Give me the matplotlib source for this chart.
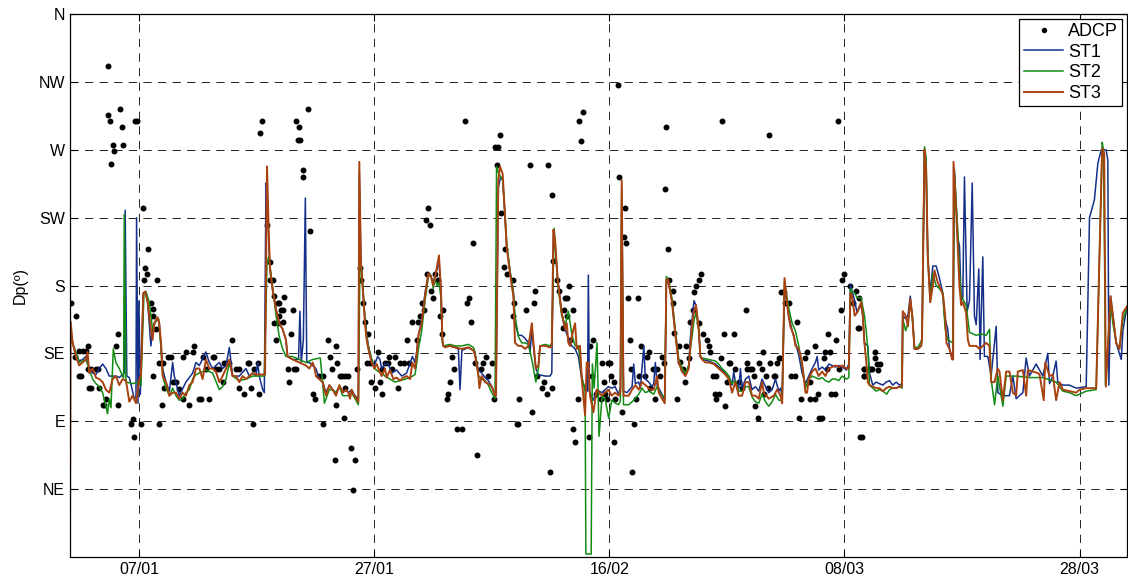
import numpy as np
import matplotlib
matplotlib.use('Agg')
import matplotlib.pyplot as plt
import matplotlib.dates as mdates

plt.rcParams['font.family'] = ['Liberation Sans', 'DejaVu Sans']

# days since 2015-01-01 00:00, direction in degrees
st1_t = [0.10, 0.33, 0.61, 0.89, 1.18, 1.46, 1.74, 2.03, 2.31, 2.60, 2.88, 3.16, 3.45, 3.73, 4.01, 4.30, 4.72, 4.80,
         4.94, 5.15, 5.43, 5.57, 5.72, 5.77, 5.89, 5.97, 6.09, 6.34, 6.51, 6.71, 6.99, 7.13, 7.28, 7.56, 7.70, 7.85,
         7.99, 8.27, 8.56, 8.84, 8.98, 9.40, 9.97, 10.54, 10.82, 11.11, 11.67, 11.96, 12.24, 12.52, 12.81, 13.09,
         13.38, 13.66, 13.94, 14.51, 15.08, 15.36, 15.65, 15.93, 16.07, 16.21, 16.50, 16.64, 16.78, 16.87, 17.01,
         17.12, 17.35, 17.64, 17.91, 18.20, 18.48, 18.62, 19.05, 19.55, 19.67, 19.78, 19.96, 20.13, 20.25, 20.47,
         20.75, 21.03, 21.32, 21.60, 21.89, 22.17, 22.45, 22.74, 23.02, 23.31, 23.59, 23.79, 24.07, 24.35, 24.64,
         24.72, 24.86, 25.06, 25.20, 25.35, 25.49, 25.77, 26.00, 26.28, 26.48, 26.62, 26.90, 27.19, 27.47, 27.90,
         28.33, 28.75, 29.24, 29.46, 29.60, 29.75, 30.03, 30.31, 30.60, 30.82, 31.02, 31.16, 31.30, 31.50, 31.67,
         31.79, 31.87, 32.44, 32.87, 33.15, 33.29, 33.45, 34.00, 34.43, 34.57, 34.85, 35.13, 35.42, 35.70, 35.99,
         36.27, 36.35, 36.55, 36.75, 36.92, 37.10, 37.26, 37.54, 37.83, 37.97, 38.26, 38.54, 38.82, 39.11, 39.25,
         39.40, 39.54, 39.74, 39.96, 40.53, 40.95, 41.10, 41.24, 41.38, 41.60, 41.94, 42.23, 42.51, 42.80, 43.08,
         43.36, 43.65, 43.93, 44.14, 44.21, 44.30, 44.64, 44.92, 45.35, 45.63, 45.92, 46.20, 46.48, 46.79, 46.94,
         47.05, 47.20, 47.50, 47.93, 48.07, 48.21, 48.50, 48.64, 48.93, 49.06, 49.35, 49.63, 49.77, 49.91, 50.06,
         50.34, 50.71, 50.85, 50.99, 51.13, 51.33, 51.62, 51.90, 52.18, 52.47, 52.75, 52.89, 53.03, 53.20, 53.37,
         53.60, 53.74, 53.89, 54.45, 55.02, 55.30, 55.59, 55.87, 56.16, 56.44, 56.58, 56.72, 57.01, 57.15, 57.29,
         57.58, 57.86, 58.14, 58.43, 58.71, 58.99, 59.28, 59.56, 59.85, 60.13, 60.41, 60.56, 60.70, 60.90, 61.12,
         61.26, 61.55, 61.83, 62.11, 62.40, 62.68, 62.96, 63.25, 63.53, 63.68, 63.81, 64.10, 64.38, 64.67, 64.95,
         65.23, 65.52, 65.80, 66.17, 66.37, 66.51, 66.65, 66.87, 67.07, 67.27, 67.42, 67.56, 67.70, 67.99, 68.13,
         68.41, 68.70, 68.98, 69.26, 69.55, 69.83, 70.11, 70.40, 70.68, 70.90, 70.96, 71.21, 71.40, 71.60, 71.77,
         71.96, 72.24, 72.53, 72.60, 72.81, 72.95, 73.09, 73.30, 73.52, 73.80, 74.08, 74.37, 74.50, 74.79, 74.94,
         75.22, 75.36, 75.64, 75.79, 75.93, 76.07, 76.21, 76.44, 76.64, 76.87, 77.06, 77.21, 77.43, 77.54, 77.77,
         77.91, 78.20, 78.48, 78.91, 79.05, 79.48, 80.04, 80.33, 80.61, 80.90, 81.18, 81.46, 81.74, 82.03, 82.31,
         82.60, 82.88, 83.30, 83.45, 83.73, 84.01, 84.15, 84.58, 85.15, 85.72, 86.57, 86.85, 87.27, 87.56, 87.85,
         88.27, 88.41, 88.50, 88.64, 88.84, 89.12, 89.55, 89.69, 90.03]
st1_v = [150, 142, 135, 130, 131, 133, 125, 122, 121, 125, 128, 125, 120, 120, 120, 119, 122, 230,
         120, 119, 110, 105, 106, 225, 102, 170, 108, 175, 176, 169, 140, 151, 155, 158, 155, 140,
         125, 116, 110, 129, 120, 107, 116, 122, 129, 127, 136, 129, 125, 127, 129, 125,
         127, 139, 120, 120, 125, 120, 122, 120, 129, 120, 111, 109, 248, 246, 210,
         191, 177, 164, 155, 151, 144, 133, 131, 131, 163, 129, 144, 238, 129, 129,
         127, 125, 118, 116, 109, 114, 111, 109, 113, 109, 111, 109, 111, 107, 105,
         255, 195, 173, 158, 148, 140, 131, 127, 133, 131, 125, 128, 128, 122, 124,
         120, 122, 133, 129, 136, 147, 157, 175, 188, 186, 182, 186, 190, 196, 177,
         144, 140, 140, 139, 138, 111, 137, 139, 137, 134, 124, 122, 119, 117, 113,
         108, 107, 245, 252, 250, 228, 206, 190, 175, 155, 147, 147, 145, 142, 136,
         150, 140, 125, 121, 120, 120, 122, 215, 208, 184, 162, 151, 145, 140, 138,
         133, 118, 112, 110, 187, 110, 104, 111, 109, 111, 113, 112, 113, 108, 112,
         245, 110, 109, 113, 128, 115, 116, 112, 140, 118, 116, 113, 115, 129, 114,
         110, 104, 184, 182, 178, 169, 147, 129, 125, 121, 127, 145, 157, 170, 167,
         151, 133, 131, 130, 128, 126, 124, 122, 120, 114, 123, 116, 112, 125, 112,
         118, 120, 111, 113, 110, 118, 113, 109, 111, 118, 110, 112, 106, 178, 168,
         160, 150, 142, 134, 122, 115, 120, 125, 129, 133, 124, 126, 124, 128, 127,
         126, 127, 126, 124, 128, 181, 176, 170, 162, 165, 167, 160, 142, 140, 122,
         114, 116, 115, 114, 116, 117, 114, 116, 114, 115, 160, 158, 160, 173, 160,
         138, 138, 140, 145, 270, 256, 199, 175, 193, 193, 185, 175, 160, 151, 138,
         131, 257, 212, 206, 170, 172, 252, 163, 170, 248, 160, 154, 191, 131, 199,
         133, 133, 120, 153, 109, 107, 107, 120, 105, 107, 109, 132, 120, 124, 128,
         124, 120, 135, 115, 120, 130, 116, 114, 114, 112, 113, 225, 237, 261, 270,
         270, 263, 114, 173, 160, 142, 131, 150, 166]

st2_t = [0.10, 0.33, 0.89, 1.46, 2.03, 2.31, 2.60, 2.88, 3.16, 3.30, 3.45, 3.59, 3.79, 4.01, 4.30, 4.58, 4.67, 4.72,
         4.87, 5.43, 5.86, 6.14, 6.40, 6.57, 6.85, 7.13, 7.42, 7.65, 7.85, 7.99, 8.27, 8.56, 8.84, 9.12, 9.40, 9.69,
         9.97, 10.26, 10.54, 10.82, 11.11, 11.67, 12.24, 12.81, 13.09, 13.38, 13.66, 13.94, 14.51, 15.08, 15.65,
         16.21, 16.64, 16.87, 17.01, 17.21, 17.64, 17.91, 18.20, 18.48, 19.05, 19.62, 20.18, 20.75, 21.40, 21.55,
         21.75, 22.17, 22.45, 22.74, 23.02, 23.31, 23.79, 24.07, 24.35, 24.64, 24.78, 24.92, 25.06, 25.20, 25.35,
         25.49, 25.77, 26.00, 26.34, 26.62, 26.90, 27.33, 27.76, 28.18, 28.61, 29.04, 29.46, 29.60, 29.75, 30.03,
         30.31, 30.60, 30.82, 31.02, 31.16, 31.35, 31.50, 31.67, 31.79, 31.87, 32.44, 32.87, 33.43, 34.00, 34.43,
         34.57, 34.85, 35.13, 35.42, 35.70, 35.99, 36.27, 36.40, 36.55, 36.75, 36.92, 37.10, 37.26, 37.54, 37.83,
         37.97, 38.26, 38.54, 38.82, 39.11, 39.40, 39.54, 39.74, 39.96, 40.10, 40.53, 40.95, 41.10, 41.30, 41.45,
         41.60, 41.94, 42.23, 42.37, 42.51, 42.80, 43.08, 43.36, 43.50, 43.65, 43.93, 44.00, 44.45, 44.55, 44.70,
         44.95, 45.12, 45.38, 45.66, 45.94, 46.20, 46.51, 46.79, 46.94, 47.05, 47.20, 47.65, 48.07, 48.50, 48.78,
         49.06, 49.35, 49.77, 50.06, 50.34, 50.71, 50.85, 50.99, 51.13, 51.33, 51.62, 51.90, 52.18, 52.47, 52.75,
         52.89, 53.03, 53.20, 53.37, 53.60, 53.74, 53.89, 54.45, 55.02, 55.30, 55.59, 55.87, 56.16, 56.44, 56.72,
         57.01, 57.29, 57.58, 57.86, 58.14, 58.43, 58.71, 58.99, 59.28, 59.56, 59.85, 60.13, 60.41, 60.56, 60.70,
         60.90, 61.12, 61.26, 61.55, 61.83, 62.11, 62.40, 62.68, 62.96, 63.25, 63.53, 63.81, 64.10, 64.38, 64.67,
         64.95, 65.23, 65.52, 65.80, 66.17, 66.37, 66.51, 66.65, 66.87, 67.07, 67.42, 67.70, 67.85, 67.99, 68.13,
         68.41, 68.70, 68.98, 69.26, 69.60, 69.83, 70.11, 70.40, 70.68, 70.90, 70.96, 71.21, 71.40, 71.60, 71.77,
         71.96, 72.24, 72.53, 72.60, 72.81, 72.95, 73.09, 73.30, 73.52, 73.80, 74.08, 74.37, 74.57, 74.80, 75.22,
         75.36, 75.64, 75.78, 75.93, 76.35, 76.64, 77.21, 77.64, 78.06, 78.34, 78.48, 78.77, 79.05, 79.48, 79.76,
         80.61, 81.74, 82.88, 84.01, 84.58, 85.15, 85.72, 86.57, 87.42, 87.56, 87.93, 88.04, 88.13, 88.21, 88.64,
         88.84, 89.12, 89.40, 89.69, 90.03]
st2_v = [148, 142, 129, 131, 118, 115, 113, 109, 100, 95, 105, 99, 138, 129, 125, 120, 119, 227,
         116, 115, 116, 114, 175, 176, 169, 151, 157, 158, 138, 120, 112, 107, 112, 107, 104, 105,
         109, 111, 118, 121, 122, 124, 122, 111, 113, 118, 129, 120, 117, 118, 120,
         120, 120, 195, 199, 188, 160, 146, 138, 133, 133, 131, 129, 131, 132, 120,
         102, 111, 111, 109, 113, 107, 107, 109, 105, 101, 197, 191, 175, 157, 146,
         140, 131, 125, 123, 122, 120, 118, 116, 117, 118, 119, 121, 128, 138, 150,
         170, 186, 187, 178, 184, 180, 182, 172, 142, 140, 141, 140, 140, 141, 139,
         136, 120, 118, 117, 114, 109, 105, 259, 255, 252, 250, 230, 208, 190, 176,
         160, 146, 142, 142, 141, 131, 125, 116, 125, 140, 141, 140, 142, 218, 200,
         182, 160, 154, 158, 163, 148, 140, 140, 130, 120, 110, 2, 2, 128, 112,
         142, 80, 107, 104, 92, 104, 102, 101, 104, 240, 101, 101, 104, 108, 112,
         109, 110, 108, 113, 108, 106, 186, 184, 180, 171, 150, 131, 125, 122, 127,
         138, 146, 157, 162, 151, 133, 132, 131, 130, 128, 125, 123, 120, 115, 117,
         110, 110, 113, 113, 106, 103, 102, 108, 103, 100, 103, 108, 104, 104, 103,
         183, 172, 165, 155, 150, 140, 127, 112, 118, 120, 119, 118, 119, 117, 116,
         118, 118, 117, 120, 118, 119, 178, 176, 175, 172, 172, 160, 150, 138, 114,
         112, 110, 111, 110, 108, 111, 112, 112, 113, 112, 158, 150, 155, 168, 160,
         139, 139, 143, 145, 272, 265, 199, 169, 188, 180, 178, 175, 151, 144, 142,
         254, 217, 190, 173, 167, 149, 147, 148, 147, 151, 118, 101, 120, 100, 120,
         120, 119, 119, 116, 110, 109, 107, 110, 111, 156, 275, 270, 200, 114, 168,
         155, 142, 138, 157, 166]

st3_t = [0.10, 0.16, 0.33, 0.61, 0.89, 1.18, 1.46, 1.60, 1.74, 2.03, 2.31, 2.60, 2.88, 3.16, 3.45, 3.73, 4.01, 4.30,
         4.58, 4.87, 5.15, 5.43, 5.72, 6.00, 6.14, 6.34, 6.51, 6.71, 6.99, 7.13, 7.28, 7.56, 7.70, 7.85, 7.99, 8.27,
         8.56, 8.84, 9.12, 9.40, 9.69, 9.97, 10.26, 10.54, 10.82, 11.11, 11.39, 11.67, 11.96, 12.24, 12.52, 12.81,
         13.09, 13.38, 13.66, 13.94, 14.23, 14.51, 14.79, 15.08, 15.36, 15.65, 15.93, 16.21, 16.50, 16.70, 16.87,
         17.01, 17.12, 17.35, 17.64, 17.91, 18.20, 18.48, 18.62, 19.05, 19.62, 20.18, 20.47, 20.75, 20.89, 21.03,
         21.32, 21.60, 21.89, 22.17, 22.45, 22.74, 23.02, 23.31, 23.59, 23.79, 23.93, 24.07, 24.21, 24.64, 24.72,
         24.86, 25.06, 25.20, 25.35, 25.49, 25.77, 26.00, 26.20, 26.34, 26.62, 26.90, 27.05, 27.33, 27.62, 27.90,
         28.18, 28.47, 28.75, 29.04, 29.24, 29.46, 29.60, 29.75, 30.03, 30.31, 30.60, 30.82, 31.02, 31.16, 31.30,
         31.50, 31.67, 31.79, 31.87, 32.01, 32.44, 32.87, 33.43, 34.00, 34.43, 34.57, 34.85, 34.94, 35.13, 35.42,
         35.70, 35.99, 36.27, 36.35, 36.55, 36.69, 36.92, 37.10, 37.26, 37.54, 37.83, 37.97, 38.26, 38.54, 38.82,
         39.11, 39.25, 39.40, 39.54, 39.74, 39.96, 40.10, 40.53, 40.95, 41.10, 41.24, 41.38, 41.60, 41.94, 42.23,
         42.37, 42.51, 42.65, 42.94, 43.08, 43.22, 43.50, 43.65, 43.93, 44.07, 44.21, 44.35, 44.64, 44.92, 45.35,
         45.63, 45.92, 46.20, 46.48, 46.79, 46.94, 47.05, 47.20, 47.65, 47.93, 48.21, 48.50, 48.78, 49.06, 49.49,
         49.77, 50.06, 50.20, 50.48, 50.71, 50.85, 50.99, 51.13, 51.33, 51.62, 51.90, 52.18, 52.47, 52.75, 52.89,
         53.03, 53.17, 53.37, 53.60, 53.74, 53.89, 54.17, 54.45, 54.88, 55.30, 55.59, 55.87, 56.16, 56.44, 56.72,
         57.01, 57.29, 57.58, 57.86, 58.14, 58.43, 58.71, 58.99, 59.14, 59.56, 59.99, 60.27, 60.56, 60.70, 60.90,
         61.12, 61.26, 61.40, 61.69, 61.83, 62.11, 62.40, 62.68, 62.82, 62.96, 63.25, 63.53, 63.81, 64.10, 64.38,
         64.67, 64.95, 65.23, 65.52, 65.80, 66.17, 66.37, 66.51, 66.65, 66.87, 67.07, 67.27, 67.42, 67.56, 67.70,
         67.84, 67.99, 68.13, 68.41, 68.70, 68.98, 69.26, 69.55, 69.83, 70.11, 70.40, 70.68, 70.90, 70.96, 71.21,
         71.40, 71.60, 71.77, 71.96, 72.24, 72.53, 72.60, 72.81, 72.95, 73.09, 73.30, 73.52, 73.66, 73.94, 74.23,
         74.40, 74.57, 74.68, 74.94, 75.16, 75.25, 75.28, 75.50, 75.64, 75.78, 75.93, 76.07, 76.35, 76.50, 76.64,
         76.92, 77.21, 77.49, 77.77, 78.06, 78.34, 78.48, 78.77, 79.05, 79.19, 79.48, 79.76, 80.04, 80.33, 80.61,
         80.75, 81.18, 81.46, 81.60, 82.03, 82.45, 82.60, 82.96, 83.08, 83.45, 83.73, 84.01, 84.30, 84.58, 85.15,
         85.72, 86.00, 86.57, 87.42, 87.70, 87.93, 88.10, 88.24, 88.64, 88.84, 89.12, 89.40, 89.69, 90.03]
st3_v = [1, 156, 142, 133, 127, 129, 131, 136, 122, 125, 119, 118, 116, 111, 109, 118, 120, 114,
         118, 117, 103, 107, 102, 118, 120, 175, 176, 169, 151, 144, 155, 159, 155, 142, 120, 116,
         107, 109, 109, 105, 109, 107, 114, 116, 125, 125, 118, 131, 125, 125, 123, 116,
         120, 125, 131, 120, 120, 116, 120, 118, 120, 122, 121, 121, 121, 121, 259,
         217, 191, 177, 164, 155, 151, 144, 133, 131, 129, 127, 125, 129, 126, 120,
         118, 116, 107, 114, 111, 107, 114, 109, 111, 109, 105, 111, 108, 103, 262,
         195, 173, 155, 144, 138, 129, 125, 128, 125, 120, 125, 119, 124, 118, 119,
         117, 119, 120, 118, 129, 125, 134, 147, 155, 173, 188, 186, 180, 186, 191,
         200, 177, 144, 140, 139, 140, 139, 138, 139, 137, 134, 121, 112, 120, 116,
         115, 113, 107, 107, 250, 259, 254, 228, 206, 188, 173, 142, 140, 140, 138,
         140, 147, 155, 142, 125, 127, 140, 140, 139, 140, 217, 210, 184, 162, 151,
         155, 142, 140, 151, 155, 138, 140, 118, 94, 129, 129, 107, 96, 111, 107,
         109, 111, 107, 109, 107, 110, 250, 107, 107, 111, 114, 111, 116, 114, 111,
         111, 120, 109, 105, 102, 184, 184, 178, 169, 147, 129, 123, 120, 125, 140,
         153, 162, 167, 151, 133, 131, 129, 129, 128, 125, 123, 121, 118, 109, 116,
         107, 107, 116, 116, 107, 107, 105, 116, 109, 105, 107, 111, 107, 102, 185,
         168, 159, 153, 147, 140, 138, 129, 109, 109, 118, 123, 125, 120, 123, 120,
         125, 126, 127, 126, 127, 125, 125, 175, 173, 160, 162, 166, 169, 160, 142,
         131, 116, 114, 113, 112, 112, 110, 112, 113, 112, 112, 113, 113, 163, 160,
         153, 171, 160, 138, 138, 140, 145, 270, 256, 199, 169, 180, 190, 182, 177,
         173, 160, 142, 138, 131, 131, 262, 230, 206, 180, 167, 169, 162, 144, 140,
         140, 140, 138, 140, 142, 140, 116, 116, 125, 123, 104, 123, 123, 109, 107,
         123, 124, 107, 124, 123, 122, 121, 104, 129, 120, 121, 104, 116, 111, 110,
         109, 111, 112, 112, 200, 271, 268, 113, 173, 160, 142, 138, 162, 166]

adcp_t = [0.18, 0.61, 0.55, 0.89, 1.18, 1.46, 1.60, 0.89, 1.03, 1.60, 1.89, 2.31, 2.45, 1.74, 1.89, 2.60, 2.88, 3.02,
          3.30, 3.36, 3.50, 4.38, 4.52, 3.79, 3.87, 3.63, 4.64, 5.63, 5.83, 4.21, 4.01, 4.16, 3.16, 5.29, 5.43, 5.57,
          6.14, 6.28, 6.77, 6.48, 6.62, 6.43, 7.48, 7.00, 7.20, 7.13, 7.42, 7.13, 7.70, 7.99, 8.13, 7.70, 7.90, 8.41,
          8.70, 8.84, 9.12, 9.40, 9.69, 9.74, 10.00, 10.54, 10.62, 10.26, 11.11, 11.25, 11.40, 11.67, 11.96, 12.24,
          12.38, 12.50, 12.80, 13.09, 13.23, 13.38, 13.89, 13.66, 14.20, 14.50, 14.51, 14.94, 15.22, 15.36, 15.50,
          15.65, 15.79, 16.07, 16.16, 16.27, 16.44, 16.87, 17.12, 17.12, 17.35, 17.49, 17.77, 17.91, 18.05, 18.20,
          18.33, 17.91, 17.50, 17.80, 18.25, 17.64, 18.90, 19.05, 18.62, 18.76, 19.20, 19.33, 19.33, 19.56, 19.48,
          19.70, 20.38, 19.90, 19.96, 20.52, 20.75, 20.98, 21.32, 21.60, 21.66, 22.03, 22.26, 22.37, 22.74, 22.63,
          22.74, 23.25, 23.50, 23.44, 22.80, 23.08, 23.80, 23.50, 24.00, 24.35, 24.20, 24.50, 24.78, 24.86, 25.00,
          25.20, 25.50, 25.35, 25.63, 25.72, 26.06, 26.28, 26.48, 26.68, 26.62, 26.90, 27.20, 27.25, 27.80, 27.53,
          27.99, 28.18, 28.55, 28.94, 28.75, 29.18, 29.60, 29.75, 29.89, 30.09, 30.20, 30.37, 30.54, 30.71, 30.45,
          31.16, 30.82, 31.00, 31.45, 31.59, 31.73, 31.87, 32.64, 32.81, 32.44, 32.30, 32.16, 33.00, 33.50, 33.70,
          33.86, 34.06, 34.20, 34.42, 34.57, 34.77, 35.08, 35.28, 35.47, 35.70, 35.99, 36.20, 36.27, 36.55, 36.67,
          36.41, 36.79, 37.12, 37.04, 37.30, 37.83, 37.90, 37.83, 38.31, 38.11, 38.20, 38.88, 39.25, 39.60, 39.67,
          39.39, 39.82, 40.24, 40.47, 40.67, 40.81, 40.95, 41.10, 41.15, 41.24, 41.52, 41.72, 42.10, 42.23, 42.40,
          42.57, 42.88, 42.37, 42.08, 42.69, 42.94, 43.08, 43.30, 43.45, 43.59, 43.73, 44.27, 44.35, 44.64, 44.50,
          44.84, 45.35, 45.92, 46.06, 45.29, 45.77, 45.57, 46.43, 45.66, 46.17, 46.37, 46.45, 46.71, 46.85, 47.08,
          47.22, 47.36, 47.45, 47.60, 47.73, 47.82, 47.93, 48.13, 48.27, 48.44, 48.50, 48.72, 49.00, 49.20, 49.35,
          49.49, 49.69, 49.86, 50.06, 50.34, 50.48, 50.62, 50.82, 50.71, 50.99, 51.10, 51.39, 51.39, 51.53, 51.76,
          51.90, 52.05, 52.24, 52.47, 52.53, 52.75, 52.89, 53.09, 53.23, 53.40, 53.60, 53.83, 53.66, 53.94, 54.31,
          54.45, 54.60, 54.79, 55.08, 55.02, 55.36, 55.08, 55.53, 55.59, 55.73, 55.87, 56.00, 56.16, 56.30, 56.58,
          56.72, 57.00, 57.29, 57.63, 57.72, 58.00, 58.14, 57.72, 58.28, 58.37, 58.62, 58.71, 58.99, 59.08, 59.13,
          59.33, 59.99, 60.13, 59.50, 59.70, 59.56, 60.27, 60.41, 60.55, 60.64, 60.84, 60.92, 61.26, 61.43, 61.77,
          61.97, 62.11, 62.34, 62.62, 62.82, 63.10, 63.10, 63.53, 63.76, 63.47, 63.87, 64.10, 64.24, 64.32, 64.81,
          64.52, 64.57, 64.89, 65.18, 65.29, 65.52, 65.74, 65.80, 65.94, 65.43, 66.51, 66.70, 66.99, 67.16, 67.22,
          67.36, 67.50, 67.65, 67.65, 68.07, 68.35, 68.58, 67.21, 67.70, 68.13, 68.27, 67.70, 68.63, 68.75, 69.03,
          68.86]
adcp_v = [168.6, 159.8, 132.4, 136.8, 136.8, 136.8, 140, 119.8, 119.8, 124.7, 124.7, 124.7, 124.7, 111.9, 111.9,
          111.9, 100.5, 100.5, 325.5, 293, 289, 297, 285, 273, 269, 260.5, 273, 289, 289, 148, 140, 100.5, 104.9,
          88.4, 91.7, 79.6, 88.4, 231.7, 204.2, 191.7, 188, 184, 184, 168.6, 164.2, 159.8, 151, 119.8, 128.4, 128.4,
          111.9, 88.4, 100.5, 132.4, 132.4, 115.9, 115.9, 111.5, 104.9, 132.4, 136, 136, 140, 100.5, 104.5, 104.5,
          132.4, 124.7, 104.5, 132.4, 132.4, 124.7, 124.7, 115.9, 128.4, 128.4, 144, 128.4, 124.7, 124.7, 111.9,
          108, 128.4, 128.4, 111.9, 88.4, 124.7, 128.4, 108, 281, 289, 220, 195.7, 184, 184, 173, 168.6, 168.6,
          164, 164, 172.4, 159.8, 155.4, 155.4, 155.9, 144, 148, 164, 124.7, 115.9, 124.7, 124.7, 289, 285, 276.7,
          276.7, 297, 256.5, 252, 216, 108, 104.5, 119.8, 119.8, 88.4, 144, 132.4, 124.7, 140, 64.2, 100.5, 119.8,
          119.8, 92, 128.4, 119.8, 119.8, 111.9, 72, 64.2, 44.5, 124.7, 191.7, 184, 168.6, 155.9, 148, 128.4, 128.4,
          115.9, 111.9, 136, 115.9, 108, 124.7, 128.4, 128.4, 132.4, 132.4, 124.7, 111.9, 128.4, 128.4, 128.4, 144,
          155.9, 144, 155.9, 159.8, 168.6, 164, 223.6, 231.7, 220, 188, 188, 176.3, 172, 184, 159.8, 148, 164,
          132.4, 124.7, 115.9, 108, 104.5, 85, 85, 289, 168.6, 172, 155.9, 208, 128.4, 68, 124.7, 128.4, 132.4,
          119.8, 128.4, 104.5, 272, 272, 280, 260, 228, 204, 192, 188, 184, 168.6, 159.8, 104.5, 88.4, 88.4, 164,
          260, 168.6, 176.3, 96, 119.8, 111.9, 115.9, 108, 260, 56.5, 111.9, 240, 196, 184, 176.3, 164, 172, 172,
          180, 164, 159.8, 152, 144, 85, 76, 104.5, 289, 276, 295, 79.6, 140, 144, 119.8, 108, 128.4, 128.4, 128.4,
          104.5, 104.5, 115.9, 76, 108, 119.8, 115.9, 104.5, 313, 252, 96, 212, 231.7, 208, 172, 144, 124.7, 56.5,
          88.4, 104.5, 172, 119.8, 140, 119.8, 132.4, 136, 111.9, 124.7, 104.5, 124.7, 119.8, 132.4, 128.4, 285,
          243.8, 204.2, 184, 176.3, 168.6, 148.4, 104.5, 140, 129, 124.7, 115.9, 140, 132, 155.9, 164, 175.6, 180,
          184, 188, 155.4, 148, 144, 140, 136, 119.8, 119.8, 108, 108, 104.5, 132, 289, 148, 100, 115.9, 128.4,
          128.4, 148, 124.7, 115.9, 111.9, 164, 124.7, 124.7, 124.7, 128.4, 119.8, 100, 92, 128.4, 124.7, 136, 108,
          119.8, 119.8, 119.8, 111.9, 128.4, 280, 128.4, 132, 132, 176, 176, 168.6, 168.6, 119.8, 119.8, 155.9, 92,
          104.5, 132, 136, 115.9, 104.5, 104.5, 108, 140, 92, 92, 132, 136, 136, 124.7, 148, 108, 108, 144, 124.7,
          164, 184, 188, 289, 180, 168.6, 176.3, 152, 172, 79.6, 79.6, 124.7, 119.8, 124.7, 124.7, 136, 151.7,
          124.7, 124.7, 124.7, 119.8, 132, 128, 128, 124.2]

dir_ticks = [45, 90, 135, 180, 225, 270, 315, 360]
dir_labels = ['NE', 'E', 'SE', 'S', 'SW', 'W', 'NW', 'N']
date_ticks = ['2015-01-07', '2015-01-27', '2015-02-16', '2015-03-08', '2015-03-28']

t0 = mdates.date2num(np.datetime64('2015-01-01'))


def to_num(t):
    return t0 + np.asarray(t)


fig = plt.figure(figsize=(11.28, 5.87), dpi=100)
ax = fig.add_axes([0.062, 0.051, 0.937, 0.925])

ax.plot(to_num(adcp_t), adcp_v, '.', color='black', markersize=6.5, label='ADCP')
ax.plot(to_num(st1_t), st1_v, color='#15308a', linewidth=1.1, label='ST1')
ax.plot(to_num(st2_t), st2_v, color='#128c14', linewidth=1.1, label='ST2')
ax.plot(to_num(st3_t), st3_v, color='#a9420f', linewidth=1.4, label='ST3')

ax.set_ylim(0, 360)
ax.set_xlim(to_num(0.1), to_num(90.03))
ax.set_yticks(dir_ticks)
ax.set_yticklabels(dir_labels)
ax.set_xticks([mdates.date2num(np.datetime64(d)) for d in date_ticks])
ax.xaxis.set_major_formatter(mdates.DateFormatter('%d/%m'))
ax.set_ylabel('Dp(º)', fontsize=11.5, labelpad=8)

ax.grid(True, color='#222222', linestyle=(0, (8.5, 6.5)), linewidth=0.7)
ax.tick_params(direction='in', top=True, right=True, labelsize=11.5, length=5, width=0.8)
for s in ax.spines.values():
    s.set_linewidth(0.9)

leg = ax.legend(loc='upper right', fontsize=13, frameon=True, fancybox=False, framealpha=1,
                edgecolor='black', borderpad=0.25, labelspacing=0.2, handlelength=2.2,
                handletextpad=0.25, borderaxespad=0.25, markerscale=0.9)
leg.get_frame().set_linewidth(0.9)

fig.savefig('out.png', dpi=100)
